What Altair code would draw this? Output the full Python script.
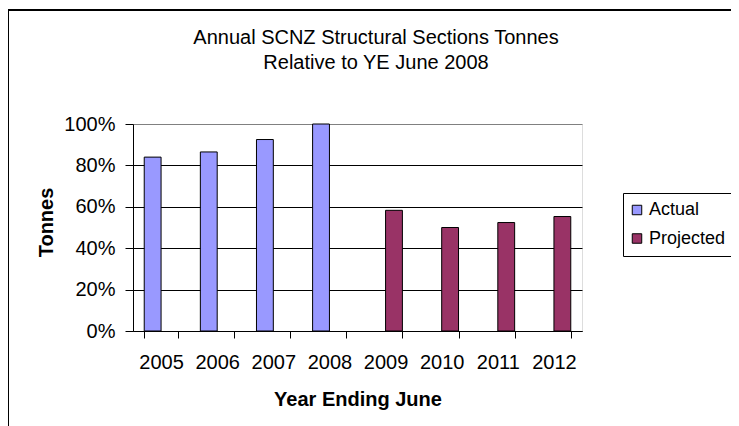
import altair as alt
import pandas as pd

years = ["2005", "2006", "2007", "2008", "2009", "2010", "2011", "2012"]
share = [0.84, 0.865, 0.925, 1.00, 0.583, 0.50, 0.524, 0.553]
series = ["Actual", "Actual", "Actual", "Actual",
          "Projected", "Projected", "Projected", "Projected"]
series_names = ["Actual", "Projected"]
series_colors = ["#9999FF", "#993366"]
y_ticks = [0, 0.2, 0.4, 0.6, 0.8, 1.0]
title_lines = ["Annual SCNZ Structural Sections Tonnes", "Relative to YE June 2008"]

df = pd.DataFrame({"Year": years, "Share": share, "Series": series})

FONT = "Liberation Sans"

bars = alt.Chart(df).mark_bar(stroke="black", strokeWidth=1).encode(
    x=alt.X(
        "Year:N", sort=years,
        scale=alt.Scale(paddingInner=0.4, paddingOuter=0.2),
        axis=alt.Axis(
            title="Year Ending June", labelAngle=0, tickBand="extent",
            tickSize=7, labelPadding=14.5, labelFontSize=20, labelFont=FONT,
            titleFontSize=20, titleFont=FONT, titleFontWeight="bold",
            titleBaseline="alphabetic", titleY=74, grid=False,
            domainColor="black", tickColor="black", labelColor="black",
            titleColor="black",
        ),
    ),
    xOffset=alt.XOffset("Series:N",
                        scale=alt.Scale(domain=series_names, paddingInner=0, paddingOuter=0)),
    y=alt.Y(
        "Share:Q",
        scale=alt.Scale(domain=[0, 1], nice=False),
        axis=alt.Axis(
            values=y_ticks, format=".0%", title="Tonnes",
            tickSize=8, labelPadding=10, labelFontSize=20, labelFont=FONT,
            titleFontSize=20, titleFont=FONT, titleFontWeight="bold",
            titleBaseline="alphabetic", titleX=-81, titleY=98, titleAngle=270,
            titleAlign="center",
            grid=True,
            gridColor={"condition": {"test": "datum.value === 1", "value": "#808080"},
                       "value": "black"},
            gridWidth=1, gridOpacity=1,
            domainColor="black", tickColor="black", labelColor="black",
            titleColor="black",
        ),
    ),
    color=alt.Color(
        "Series:N",
        scale=alt.Scale(domain=series_names, range=series_colors),
        legend=alt.Legend(
            title=None, orient="none", legendX=490, legendY=69, direction="vertical",
            fillColor="white", strokeColor="black", padding=5,
            symbolType="square", symbolSize=90, symbolStrokeColor="black",
            symbolStrokeWidth=1, symbolOpacity=1,
            labelFontSize=18, labelFont=FONT, labelColor="black",
            labelOffset=3, rowPadding=4.5, clipHeight=24,
        ),
    ),
)

frame = alt.Chart(alt.Data(values=[{}])).mark_rect(
    fillOpacity=0, stroke="black", strokeWidth=2
).encode(
    x=alt.value(-125), y=alt.value(-114), x2=alt.value(900), y2=alt.value(900)
)

title = alt.Chart(alt.Data(values=[{"t": "\n".join(title_lines)}])).mark_text(
    font=FONT, fontSize=20, color="black", align="center", baseline="top",
    lineBreak="\n", lineHeight=25
).encode(
    text="t:N", x=alt.value(243), y=alt.value(-96)
)

chart = alt.layer(frame, title, bars).properties(
    width=449, height=207,
    padding={"left": 125, "top": 116, "right": 149, "bottom": 95},
    autosize="none",
).configure_view(
    stroke="#808080", strokeWidth=1
).configure_legend(
    strokeWidth=1, cornerRadius=0
).configure(background="white")

chart.save("out.html", embed_options={"renderer": "svg", "actions": False})
